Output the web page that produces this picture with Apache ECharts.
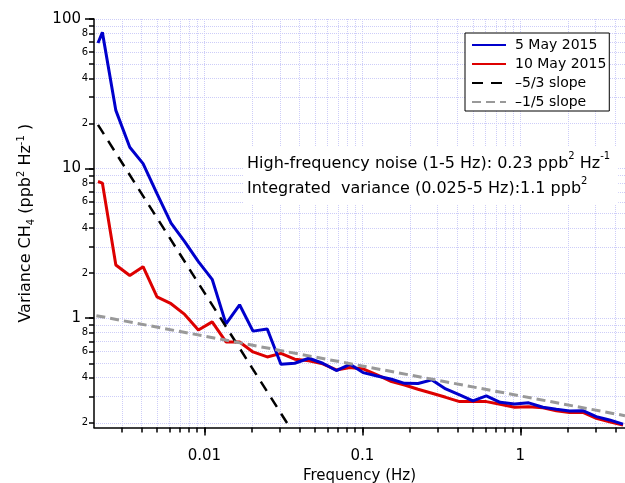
<!DOCTYPE html>
<html>
<head>
<meta charset="utf-8">
<script src="https://cdn.jsdelivr.net/npm/echarts@6/dist/echarts.min.js"></script>
<style>
html,body{margin:0;padding:0;background:#fff;}
#chart{width:625px;height:483px;}
</style>
</head>
<body>
<div id="chart"></div>
<script>
// ---- data ----
const freq = [0.00212, 0.00226, 0.00275, 0.00337, 0.00409, 0.00501, 0.00615, 0.0075, 0.00916, 0.0112,
  0.0137, 0.0167, 0.0203, 0.025, 0.0305, 0.0373, 0.0459, 0.0561, 0.0684, 0.0835,
  0.101, 0.124, 0.153, 0.185, 0.225, 0.276, 0.337, 0.413, 0.501, 0.609,
  0.745, 0.92, 1.13, 1.39, 1.69, 2.05, 2.49, 3.03, 3.67, 4.47];
const may5 = [69.1, 81.4, 24.5, 13.9, 10.8, 6.8, 4.32, 3.25, 2.39, 1.82,
  0.916, 1.23, 0.82, 0.848, 0.492, 0.50, 0.54, 0.50, 0.447, 0.492,
  0.433, 0.411, 0.391, 0.367, 0.366, 0.387, 0.337, 0.307, 0.280, 0.303,
  0.274, 0.267, 0.272, 0.254, 0.246, 0.240, 0.241, 0.220, 0.209, 0.196];
const may10 = [8.2, 8.0, 2.27, 1.93, 2.21, 1.39, 1.25, 1.06, 0.835, 0.945,
  0.694, 0.694, 0.595, 0.551, 0.582, 0.532, 0.52, 0.495, 0.451, 0.469,
  0.458, 0.418, 0.377, 0.358, 0.335, 0.315, 0.296, 0.277, 0.277, 0.277,
  0.266, 0.254, 0.256, 0.252, 0.241, 0.234, 0.235, 0.214, 0.203, 0.193];
const slope53Freq = [0.00212, 0.0338];
const slope53Val = [19.6, 0.195];
const slope15Freq = [0.00207, 4.6];
const slope15Val = [1.04, 0.223];

const seriesNames = ['5 May 2015', '10 May 2015', '\u20135/3 slope', '\u20131/5 slope'];

const xMajorTicks = [0.01, 0.1, 1];
const xMinorTicks = [0.003, 0.004, 0.005, 0.006, 0.007, 0.008, 0.009,
  0.02, 0.03, 0.04, 0.05, 0.06, 0.07, 0.08, 0.09,
  0.2, 0.3, 0.4, 0.5, 0.6, 0.7, 0.8, 0.9, 2, 3, 4];
const yMajorTicks = [1, 10, 100];
const yMinorTicks = [0.2, 0.3, 0.4, 0.5, 0.6, 0.7, 0.8, 0.9,
  2, 3, 4, 5, 6, 7, 8, 9, 20, 30, 40, 50, 60, 70, 80, 90];
const yMinorLabels = [0.2, 0.4, 0.6, 0.8, 2, 4, 6, 8, 20, 40, 60, 80];

const xMin = 0.002, xMax = 4.6, yMin = 0.186, yMax = 100;

// ---- chart ----
const FONT = 'DejaVu Sans';
const L = Math.log10;
const pairs = (xs, ys) => xs.map((x, i) => [x, ys[i]]);
const fmtMajor = v => String(parseFloat(Math.pow(10, v).toPrecision(6)));
const fmtMinor = v => {
  const e = Math.floor(v + 1e-9);
  return String(Math.round(Math.pow(10, v) / Math.pow(10, e)));
};
const gridColor = '#cdcdf8';

const chart = echarts.init(document.getElementById('chart'), null, {renderer: 'canvas'});
chart.setOption({
  animation: false,
  backgroundColor: '#fff',
  textStyle: {fontFamily: FONT},
  grid: {left: 94, right: 0, top: 19, bottom: 55.5, containLabel: false, outerBoundsMode: 'none'},
  xAxis: [
    {type: 'log', logBase: 10, min: xMin, max: xMax, show: false},
    {
      type: 'value', min: L(xMin), max: L(xMax), position: 'bottom', z: 1,
      axisLine: {show: true, onZero: false, lineStyle: {color: '#000', width: 1.5}},
      axisTick: {show: true, inside: false, length: 8, customValues: xMajorTicks.map(L), lineStyle: {color: '#000', width: 1.5}},
      axisLabel: {show: true, customValues: xMajorTicks.map(L), formatter: fmtMajor, margin: 21, fontSize: 15, color: '#000', fontFamily: FONT},
      splitLine: {show: false},
      name: 'Frequency (Hz)', nameLocation: 'middle', nameGap: 34,
      nameTextStyle: {fontSize: 15, color: '#000', fontFamily: FONT}
    },
    {
      type: 'value', min: L(xMin), max: L(xMax), position: 'bottom', z: 0,
      axisLine: {show: false, onZero: false},
      axisTick: {show: true, inside: false, length: 5, customValues: xMinorTicks.concat(xMajorTicks).map(L), lineStyle: {color: '#000', width: 1.5}},
      axisLabel: {show: false},
      splitLine: {show: true, lineStyle: {type: 'dotted', color: gridColor, width: 1}}
    }
  ],
  yAxis: [
    {type: 'log', logBase: 10, min: yMin, max: yMax, show: false},
    {
      type: 'value', min: L(yMin), max: L(yMax), position: 'left', z: 1,
      axisLine: {show: true, onZero: false, lineStyle: {color: '#000', width: 1.5}},
      axisTick: {show: true, inside: false, length: 9, customValues: yMajorTicks.map(L), lineStyle: {color: '#000', width: 1.5}},
      axisLabel: {show: true, customValues: yMajorTicks.map(L), formatter: fmtMajor, margin: 13, fontSize: 15, color: '#000', fontFamily: FONT},
      splitLine: {show: false},
      name: '{n|Variance CH}{sub|4}{n| (ppb}{sup|2}{n| Hz}{sup|-1}{n| )}',
      nameLocation: 'middle', nameRotate: 90, nameGap: 58,
      nameTextStyle: {
        fontSize: 16, color: '#000', fontFamily: FONT,
        rich: {
          n: {fontSize: 16, lineHeight: 20, color: '#000', fontFamily: FONT},
          sub: {fontSize: 10, lineHeight: 8, verticalAlign: 'bottom', color: '#000', fontFamily: FONT},
          sup: {fontSize: 10, lineHeight: 8, verticalAlign: 'top', color: '#000', fontFamily: FONT}
        }
      }
    },
    {
      type: 'value', min: L(yMin), max: L(yMax), position: 'left', z: 0,
      axisLine: {show: false, onZero: false},
      axisTick: {show: true, inside: false, length: 5, customValues: yMinorTicks.concat(yMajorTicks).map(L), lineStyle: {color: '#000', width: 1.5}},
      axisLabel: {show: true, customValues: yMinorLabels.map(L), formatter: fmtMinor, margin: 6, fontSize: 10, color: '#000', fontFamily: FONT},
      splitLine: {show: true, lineStyle: {type: 'dotted', color: gridColor, width: 1}}
    }
  ],
  legend: {
    orient: 'vertical', left: 465, top: 33,
    itemWidth: 34, itemHeight: 14, itemGap: 5,
    padding: [5, 3, 2, 6],
    borderColor: '#000', borderWidth: 1, backgroundColor: '#fff',
    itemStyle: {opacity: 0},
    textStyle: {fontSize: 14, color: '#000', fontFamily: FONT, padding: [0, 0, 0, 4]},
    data: seriesNames
  },
  graphic: [{
    type: 'text', left: 243, top: 147, z: 10,
    style: {
      text: '{a|High-frequency noise (1-5 Hz): 0.23 ppb}{s|2}{a| Hz}{s|-1}\n{a|Integrated  variance (0.025-5 Hz):1.1 ppb}{s|2}',
      backgroundColor: '#fff',
      padding: [4, 8, 4, 4],
      rich: {
        a: {fontSize: 16, lineHeight: 25, fill: '#000', color: '#000', fontFamily: FONT},
        s: {fontSize: 10, lineHeight: 8, verticalAlign: 'top', fill: '#000', color: '#000', fontFamily: FONT}
      }
    }
  }],
  series: [
    {
      name: seriesNames[1], type: 'line', xAxisIndex: 0, yAxisIndex: 0,
      data: pairs(freq, may10), symbol: 'none', showSymbol: false,
      lineStyle: {color: '#dd0000', width: 3}, itemStyle: {color: '#dd0000'}, z: 2
    },
    {
      name: seriesNames[0], type: 'line', xAxisIndex: 0, yAxisIndex: 0,
      data: pairs(freq, may5), symbol: 'none', showSymbol: false,
      lineStyle: {color: '#0000cc', width: 3}, itemStyle: {color: '#0000cc'}, z: 3
    },
    {
      name: seriesNames[2], type: 'line', xAxisIndex: 0, yAxisIndex: 0,
      data: pairs(slope53Freq, slope53Val), symbol: 'none', showSymbol: false,
      lineStyle: {color: '#000', width: 2.5, type: [11, 8]}, itemStyle: {color: '#000'}, z: 4
    },
    {
      name: seriesNames[3], type: 'line', xAxisIndex: 0, yAxisIndex: 0,
      data: pairs(slope15Freq, slope15Val), symbol: 'none', showSymbol: false,
      lineStyle: {color: '#999999', width: 3, type: [9, 5]}, itemStyle: {color: '#999999'}, z: 4
    }
  ]
});
</script>
</body>
</html>
